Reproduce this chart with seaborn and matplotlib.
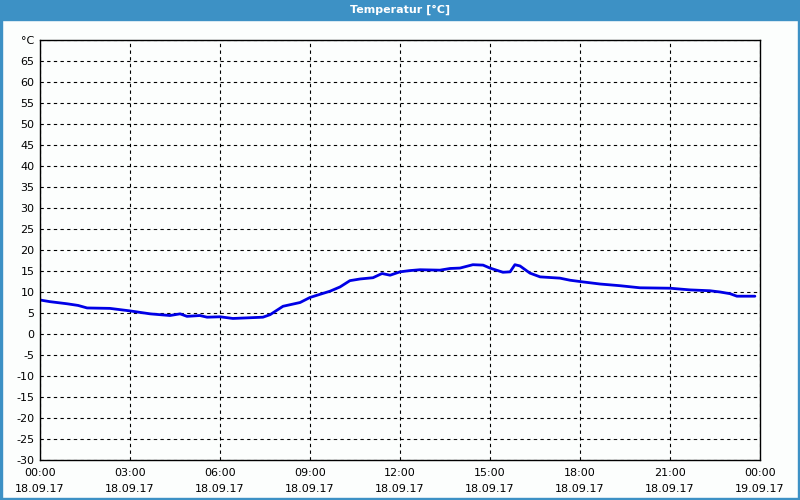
import pandas as pd
import seaborn as sns
import matplotlib.pyplot as plt
from matplotlib.patches import Rectangle
from matplotlib.ticker import MultipleLocator

# hours since 18.09.17 00:00 and temperature in °C
hours = [0.0, 0.33, 0.9, 1.27, 1.57, 2.33, 3.0, 3.67, 4.33, 4.67, 4.9, 5.33, 5.57,
         6.0, 6.43, 7.43, 7.67, 8.1, 8.67, 9.0, 9.67, 10.0, 10.33, 10.67, 11.1,
         11.4, 11.67, 12.0, 12.33, 12.67, 13.33, 13.67, 14.0, 14.43, 14.77, 15.0,
         15.43, 15.67, 15.83, 16.0, 16.33, 16.67, 17.33, 17.67, 18.1, 18.67, 19.33,
         20.0, 21.0, 21.67, 22.33, 22.67, 23.0, 23.23, 23.83]
temps = [8.1, 7.7, 7.2, 6.8, 6.2, 6.1, 5.5, 4.8, 4.4, 4.8, 4.2, 4.4, 4.0,
         4.1, 3.7, 4.0, 4.6, 6.6, 7.5, 8.7, 10.2, 11.2, 12.7, 13.1, 13.4,
         14.4, 14.0, 14.8, 15.1, 15.3, 15.2, 15.6, 15.7, 16.5, 16.4, 15.7,
         14.7, 14.8, 16.5, 16.2, 14.5, 13.6, 13.3, 12.8, 12.4, 11.9, 11.5,
         11.0, 10.9, 10.5, 10.3, 10.0, 9.6, 9.0, 9.0]

xtick_hours = [0, 3, 6, 9, 12, 15, 18, 21, 24]
xtick_labels = ["00:00\n18.09.17", "03:00\n18.09.17", "06:00\n18.09.17",
                "09:00\n18.09.17", "12:00\n18.09.17", "15:00\n18.09.17",
                "18:00\n18.09.17", "21:00\n18.09.17", "00:00\n19.09.17"]
ytick_values = list(range(-30, 75, 5))
ytick_labels = [str(v) for v in ytick_values[:-1]] + ["°C"]

df = pd.DataFrame({"hour": hours, "temp": temps})

sns.set_style("white")
plt.rcParams['font.family'] = ['DejaVu Sans']

fig = plt.figure(figsize=(8, 5), dpi=100, facecolor="#fcfefd")
blue = "#3d91c5"
fig.patches.append(Rectangle((0, 480 / 500), 1, 20 / 500, transform=fig.transFigure,
                             color=blue, zorder=0))
# thin blue frame
fig.patches.append(Rectangle((0, 0), 2 / 800, 1, transform=fig.transFigure, color=blue))
fig.patches.append(Rectangle((798 / 800, 0), 2 / 800, 1, transform=fig.transFigure, color=blue))
fig.patches.append(Rectangle((0, 0), 1, 2 / 500, transform=fig.transFigure, color=blue))
fig.text(0.5, 490 / 500, "Temperatur [°C]", color="white", fontsize=8,
         fontweight="bold", ha="center", va="center")

ax = fig.add_axes([40 / 800, 40 / 500, 720 / 800, 420 / 500])
ax.set_facecolor("#fcfefd")
sns.lineplot(data=df, x="hour", y="temp", ax=ax, color="#0000e6", linewidth=2.0)

ax.set_xlim(0, 24)
ax.set_ylim(-30, 70)
ax.set_xticks(xtick_hours)
ax.set_xticklabels(xtick_labels, fontsize=8, linespacing=1.7, color="black")
ax.xaxis.set_minor_locator(MultipleLocator(1))
ax.set_yticks(ytick_values)
ax.set_yticklabels(ytick_labels, fontsize=8, color="black")
ax.tick_params(axis="x", which="major", length=0, pad=6)
ax.tick_params(axis="x", which="minor", length=3, direction="out", color="black")
ax.tick_params(axis="y", length=0, pad=4)
ax.grid(True, which="major", color="black", linestyle=(0, (3, 3)), linewidth=0.8)
for s in ax.spines.values():
    s.set_color("black")
    s.set_linewidth(1)
ax.set_xlabel("")
ax.set_ylabel("")

fig.savefig("out.png", dpi=100, facecolor=fig.get_facecolor())
